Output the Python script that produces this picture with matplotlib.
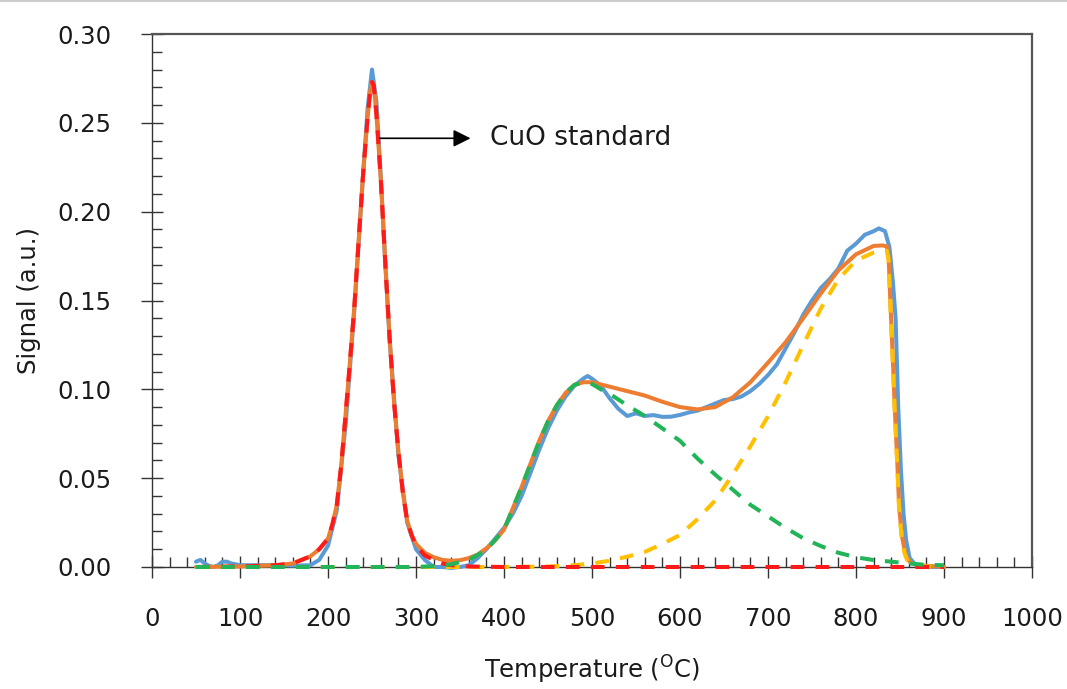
import matplotlib
matplotlib.use("Agg")
import matplotlib.pyplot as plt
from matplotlib.lines import Line2D
from matplotlib.ticker import MultipleLocator, FormatStrFormatter

plt.rcParams['font.family'] = ['DejaVu Sans']

# ---- data ----
blu_T = [50,55,60,65,70,75,80,85,90,100,120,140,160,180,190,200,210,220,230,240,245,250,255,260,265,270,280,290,300,310,320,330,340,350,360,370,380,390,400,410,420,430,440,450,460,470,480,490,495,500,510,520,530,540,550,560,570,580,590,600,610,620,630,640,650,660,670,680,690,700,710,720,730,740,750,760,770,780,790,800,810,820,826,833,838,842,845,848,851,854,857,861,870,900]
blu_S = [0.003,0.004,0.002,0.0005,0.0,0.001,0.003,0.003,0.002,0.001,0.001,0.001,0.0008,0.001,0.004,0.012,0.032,0.080,0.145,0.222,0.258,0.280,0.262,0.220,0.172,0.128,0.063,0.025,0.010,0.004,0.0,0.0,-0.0005,0.0,0.001,0.005,0.010,0.016,0.022,0.030,0.040,0.053,0.066,0.078,0.088,0.096,0.102,0.106,0.1075,0.106,0.102,0.095,0.089,0.085,0.0865,0.085,0.0855,0.0845,0.0846,0.0856,0.087,0.088,0.090,0.092,0.094,0.0945,0.096,0.099,0.103,0.108,0.114,0.123,0.132,0.142,0.150,0.157,0.162,0.168,0.178,0.182,0.187,0.189,0.1906,0.189,0.18,0.16,0.14,0.09,0.055,0.03,0.015,0.005,0.0,0.0]

org_T = [50,100,140,160,180,190,200,205,210,215,220,225,230,235,240,245,248,250,252,255,260,265,270,275,280,285,290,295,300,310,320,330,340,350,360,370,380,390,400,410,420,430,440,450,460,470,480,490,500,520,540,560,580,600,620,640,660,680,700,720,740,760,780,800,820,830,835,837,839,842,844,847,849,852,855,858,862,870,900]
org_S = [0,0.0003,0.001,0.002,0.006,0.010,0.016,0.024,0.035,0.057,0.086,0.116,0.147,0.185,0.222,0.253,0.268,0.273,0.271,0.255,0.218,0.172,0.129,0.093,0.065,0.042,0.026,0.018,0.013,0.008,0.0055,0.004,0.0035,0.0038,0.005,0.007,0.0105,0.015,0.021,0.033,0.045,0.058,0.071,0.082,0.091,0.098,0.1025,0.104,0.104,0.1015,0.099,0.0965,0.093,0.090,0.0887,0.090,0.0955,0.104,0.115,0.1265,0.140,0.154,0.167,0.176,0.1807,0.181,0.1805,0.175,0.150,0.115,0.090,0.058,0.034,0.018,0.010,0.005,0.0025,0.001,0]

red_T = [50,100,140,160,180,190,200,205,210,215,220,225,230,235,240,245,248,250,252,255,260,265,270,275,280,285,290,295,300,310,320,330,340,360,400,500,600,700,800,900]
red_S = [0,0.0003,0.001,0.002,0.006,0.010,0.016,0.024,0.035,0.057,0.086,0.116,0.147,0.185,0.222,0.253,0.268,0.273,0.271,0.255,0.218,0.172,0.129,0.093,0.065,0.042,0.026,0.018,0.012,0.0065,0.004,0.002,0.001,0.0003,0,0,0,0,0,0]

grn_T = [50,300,320,340,360,380,400,410,420,430,440,450,460,470,480,490,500,510,520,540,560,580,600,620,640,660,680,700,720,740,760,780,800,820,840,860,880,900]
grn_S = [0,0,0.0005,0.0015,0.004,0.0096,0.021,0.033,0.045,0.058,0.0705,0.082,0.091,0.098,0.1025,0.104,0.103,0.100,0.0975,0.091,0.085,0.078,0.071,0.061,0.052,0.0435,0.035,0.0285,0.022,0.0162,0.0118,0.008,0.0055,0.0039,0.003,0.002,0.0012,0.001]

yel_T = [50,300,400,450,480,500,520,540,560,580,600,620,640,660,680,700,720,740,760,780,800,820,830,835,837,839,842,844,847,849,852,855,858,862,870,900]
yel_S = [0,0,0,0.0003,0.001,0.002,0.0035,0.0058,0.0085,0.013,0.018,0.027,0.0375,0.052,0.068,0.0848,0.104,0.125,0.1455,0.162,0.1725,0.177,0.178,0.178,0.173,0.148,0.113,0.088,0.056,0.032,0.016,0.008,0.004,0.0015,0.0005,0]

x_ticks = [0,100,200,300,400,500,600,700,800,900,1000]
y_ticks = [0.00,0.05,0.10,0.15,0.20,0.25,0.30]

# ---- figure ----
fig = plt.figure(figsize=(10.67, 6.89), dpi=100)
ax = fig.add_axes([152/1067, 1-567/689, 880/1067, 533/689])

lw = 2.9
dash = (3.4, 2.8)
ax.plot(blu_T, blu_S, color='#5B9BD5', lw=lw, zorder=3, clip_on=False,
        solid_joinstyle='round', solid_capstyle='round')
ax.plot(org_T, org_S, color='#ED7D31', lw=lw, zorder=4, clip_on=False,
        solid_joinstyle='round', solid_capstyle='round')
ax.plot(yel_T, yel_S, color='#FFC000', lw=lw, ls=(0, dash), zorder=5, clip_on=False)
ax.plot(red_T, red_S, color='#FF1A1A', lw=lw, ls=(0, dash), zorder=6, clip_on=False)
ax.plot(grn_T, grn_S, color='#22B458', lw=lw, ls=(0, dash), zorder=7, clip_on=False)

ax.set_xlim(0, 1000)
ax.set_ylim(0, 0.30)
ax.set_xticks(x_ticks)
ax.set_yticks(y_ticks)
ax.xaxis.set_minor_locator(MultipleLocator(20))
ax.yaxis.set_minor_locator(MultipleLocator(0.01))
ax.yaxis.set_major_formatter(FormatStrFormatter('%.2f'))

for s in ax.spines.values():
    s.set_color('#333333')
    s.set_linewidth(1.0)
ax.spines['top'].set_color('#555555')
ax.spines['top'].set_linewidth(1.6)
ax.spines['right'].set_color('#555555')
ax.spines['right'].set_linewidth(1.6)

ax.tick_params(axis='both', which='major', direction='inout', length=16, width=1.0,
               color='#333333', labelsize=17.5, labelcolor='#1a1a1a')
ax.tick_params(axis='x', which='major', pad=21, top=False)
ax.tick_params(axis='y', which='major', pad=21, right=False)
ax.tick_params(axis='both', which='minor', direction='in', length=7.5, width=1.0, color='#333333')
ax.tick_params(axis='x', which='minor', top=False)
ax.tick_params(axis='y', which='minor', right=False)

ax.set_xlabel(r'Temperature ($^{\mathrm{O}}$C)', fontsize=17.5, color='#1a1a1a', labelpad=16)
ax.set_ylabel('Signal (a.u.)', fontsize=17.5, color='#1a1a1a', labelpad=12)

ax.annotate('', xy=(362, 0.2413), xytext=(259, 0.2413),
            arrowprops=dict(arrowstyle='-|>', color='black', lw=1.2, mutation_scale=26,
                            shrinkA=0, shrinkB=0), zorder=8)
ax.text(384, 0.2413, 'CuO standard', fontsize=19, color='#1a1a1a', va='center', ha='left')

fig.add_artist(Line2D([0, 1], [0.998, 0.998], color='#cccccc', lw=1.5, transform=fig.transFigure))

fig.savefig('out.png', dpi=100)
